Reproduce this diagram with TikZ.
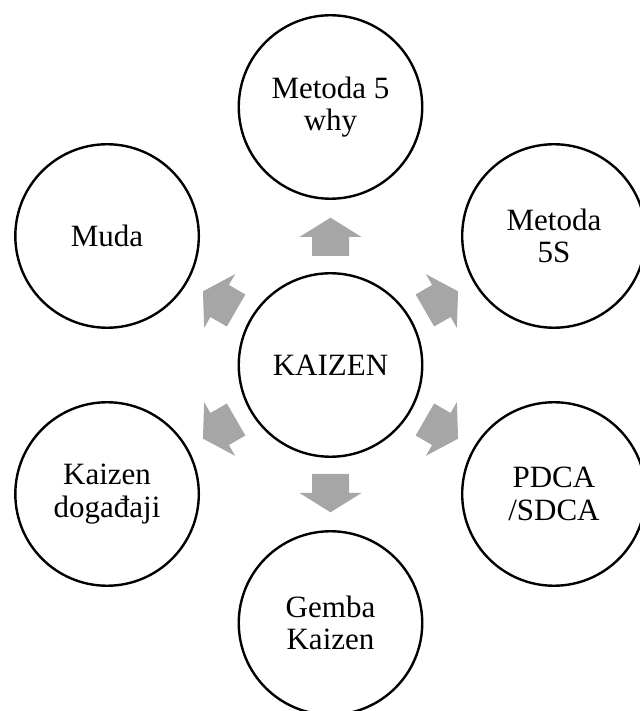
\documentclass[tikz,border=0pt]{standalone}
\usepackage{fontspec}
\setmainfont{Liberation Serif}
\usetikzlibrary{calc}
\definecolor{arrowgray}{HTML}{A6A6A6}
\tikzset{
  bubble/.style={circle, draw=black, line width=2.4pt, fill=white,
    minimum size=183.5pt, inner sep=0pt, align=center,
    font=\fontsize{31}{32.6}\selectfont},
  blockarrow/.pic={
    \fill[arrowgray] (109,-18.5) -- (128,-18.5) -- (128,-31) -- (147.3,0)
      -- (128,31) -- (128,18.5) -- (109,18.5) -- cycle;
  }
}
\begin{document}
\begin{tikzpicture}[x=1pt,y=1pt]
\useasboundingbox (0,0) rectangle (639,711);
\node[bubble] (kaizen) at (330.5,346) {KAIZEN};
\node[bubble] (why)   at ($(kaizen)+(90:258)$)  {Metoda 5\\why};
\node[bubble] (fives) at ($(kaizen)+(30:258)$)  {Metoda\\5S};
\node[bubble] (pdca)  at ($(kaizen)+(-30:258)$) {PDCA\\/SDCA};
\node[bubble] (gemba) at ($(kaizen)+(-90:258)$) {Gemba\\Kaizen};
\node[bubble] (dog)   at ($(kaizen)+(210:258)$) {Kaizen\\događaji};
\node[bubble] (muda)  at ($(kaizen)+(150:258)$) {Muda};
\foreach \a in {90,30,-30,-90,210,150}
  \pic[rotate=\a] at (kaizen.center) {blockarrow};
\end{tikzpicture}
\end{document}
